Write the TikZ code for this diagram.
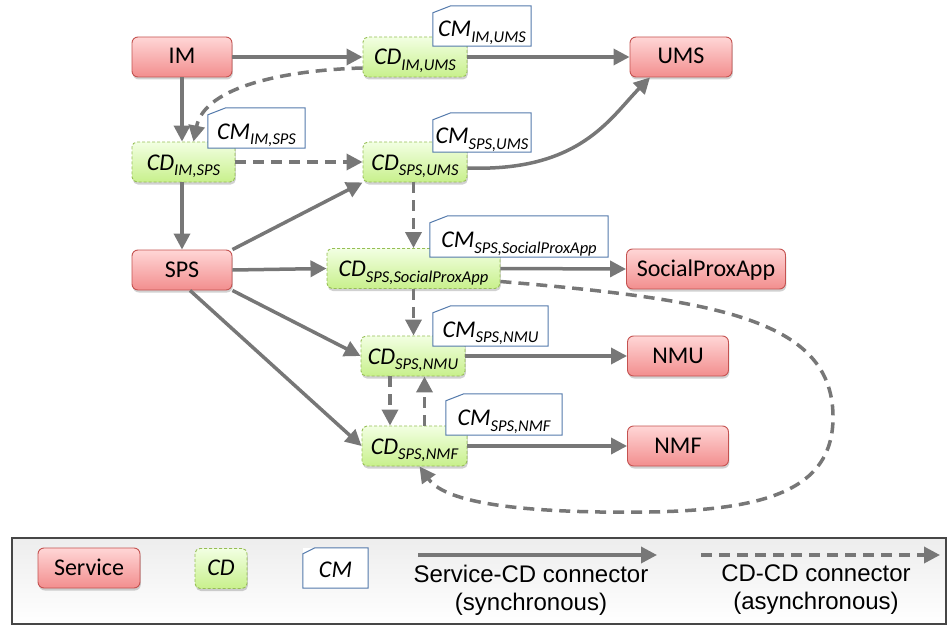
\documentclass[tikz,border=0pt]{standalone}
\usepackage{fontspec}
\setmainfont{Carlito}
\newfontfamily\legfont{Liberation Sans}
\usetikzlibrary{arrows.meta,shadows}
\definecolor{servtop}{RGB}{255,214,214}
\definecolor{servbot}{RGB}{242,142,142}
\definecolor{servborder}{RGB}{196,82,80}
\definecolor{cdtop}{RGB}{242,255,226}
\definecolor{cdbot}{RGB}{200,240,140}
\definecolor{cdborder}{RGB}{150,190,85}
\definecolor{cmborder}{RGB}{84,122,172}
\definecolor{arrowgray}{RGB}{119,119,119}
\definecolor{legborder}{RGB}{70,70,70}
\newcommand\lsub[1]{\raisebox{-5.5pt}{\fontsize{16.5}{17}\selectfont #1}}
\newcommand\cmoutline[3]{\draw[cmline] ([xshift=#2]#1.north west) -- (#1.north east) -- (#1.south east) -- (#1.south west) -- ([yshift=-#3]#1.north west) -- cycle;}
\begin{document}
\begin{tikzpicture}[x=1pt,y=-1pt,
  boxshadow/.style={drop shadow={shadow xshift=0.8pt,shadow yshift=-2.5pt,fill=black!60,opacity=0.3}},
  servicebox/.style={draw=servborder, line width=0.9pt, rounded corners=6pt,
    top color=servtop, bottom color=servbot, minimum height=40pt, inner sep=0pt,
    text height=16pt, text depth=2pt, font=\fontsize{24}{26}\selectfont, boxshadow},
  cdbox/.style={draw=cdborder, dash pattern=on 3pt off 2pt, line width=0.9pt, rounded corners=5pt,
    top color=cdtop, bottom color=cdbot, minimum height=40pt, inner sep=0pt,
    text height=20pt, text depth=4pt, font=\fontsize{24}{26}\selectfont\itshape, boxshadow},
  cmbox/.style={fill=white, minimum height=40pt, inner sep=0pt,
    text height=24pt, text depth=2pt, font=\fontsize{24}{26}\selectfont\itshape},
  cmline/.style={draw=cmborder, line width=1pt},
  sync/.style={draw=arrowgray, line width=3.5pt, -{Triangle[length=16pt,width=16pt]}},
  async/.style={sync, dash pattern=on 11pt off 7pt},
  legtext/.style={align=center, inner sep=0pt, font=\legfont\fontsize{24}{28}\selectfont},
]
\useasboundingbox (0,0) rectangle (948,626);

% service nodes
\node[servicebox, minimum width=100pt] (IM) at (182,57) {IM};
\node[servicebox, minimum width=102pt] (UMS) at (681,57) {UMS};
\node[servicebox, minimum width=100pt] (SPS) at (182,270) {SPS};
\node[servicebox, minimum width=159pt] (Social) at (706,269) {SocialProxApp};
\node[servicebox, minimum width=101pt] (NMU) at (678,356) {NMU};
\node[servicebox, minimum width=101pt] (NMF) at (678,446) {NMF};

% CD nodes
\node[cdbox, minimum width=104pt] (cdIMUMS) at (415,57) {CD\lsub{IM,UMS}};
\node[cdbox, minimum width=103pt] (cdIMSPS) at (183.5,162) {CD\lsub{IM,SPS}};
\node[cdbox, minimum width=104pt] (cdSPSUMS) at (415,162) {CD\lsub{SPS,UMS}};
\node[cdbox, minimum width=173pt] (cdSocial) at (413.5,268.5) {CD\lsub{SPS,SocialProxApp}};
\node[cdbox, minimum width=104pt] (cdNMU) at (413,356) {CD\lsub{SPS,NMU}};
\node[cdbox, minimum width=105pt] (cdNMF) at (414.5,446) {CD\lsub{SPS,NMF}};

% CM nodes
\node[cmbox, minimum width=98pt] (cmIMUMS) at (482,26) {CM\lsub{IM,UMS}};
\cmoutline{cmIMUMS}{18pt}{7pt}
\node[cmbox, minimum width=97pt] (cmIMSPS) at (256.5,128) {CM\lsub{IM,SPS}};
\cmoutline{cmIMSPS}{18pt}{7pt}
\node[cmbox, minimum width=98pt, minimum height=39pt] (cmSPSUMS) at (482,132.5) {CM\lsub{SPS,UMS}};
\cmoutline{cmSPSUMS}{18pt}{7pt}
\node[cmbox, minimum width=178pt, minimum height=41pt] (cmSocial) at (519,236.5) {CM\lsub{SPS,SocialProxApp}};
\cmoutline{cmSocial}{18pt}{7pt}
\node[cmbox, minimum width=115pt] (cmNMU) at (490.5,326) {CM\lsub{SPS,NMU}};
\cmoutline{cmNMU}{18pt}{7pt}
\node[cmbox, minimum width=116pt, minimum height=41pt] (cmNMF) at (504,414.5) {CM\lsub{SPS,NMF}};
\cmoutline{cmNMF}{18pt}{7pt}

% synchronous connectors
\draw[sync] (IM.east) -- (cdIMUMS.west);
\draw[sync] (cdIMUMS.east) -- (UMS.west);
\draw[sync] (IM.south) -- (IM.south |- cdIMSPS.north);
\draw[sync] (cdIMSPS.south -| SPS.south) -- (SPS.north);
\draw[sync] (SPS.north east) -- (cdSPSUMS.south west);
\draw[sync] ([yshift=-6pt]cdSPSUMS.east) .. controls (580,172) and (610,118) .. ([xshift=-31pt]UMS.south);
\draw[sync] (SPS.east) -- (cdSocial.west);
\draw[sync] (cdSocial.east) -- (Social.west);
\draw[sync] (SPS.south east) -- (cdNMU.west);
\draw[sync] ([xshift=8pt]SPS.south) -- (cdNMF.west);
\draw[sync] (cdNMU.east) -- (NMU.west);
\draw[sync] (cdNMF.east) -- (NMF.west);

% asynchronous connectors
\draw[async] ([yshift=-11pt]cdIMUMS.west) .. controls (290,70) and (205,85) .. ([xshift=10pt]cdIMSPS.north);
\draw[async] (cdIMSPS.east) -- (cdSPSUMS.west);
\draw[async] (cdSocial.north |- cdSPSUMS.south) -- (cdSocial.north);
\draw[async] (cdSocial.south) -- (cdSocial.south |- cdNMU.north);
\draw[async] ([xshift=-23pt]cdNMU.south) -- ([xshift=-23pt]cdNMU.south |- cdNMF.north);
\draw[async] ([xshift=10pt]cdNMF.north) -- ([xshift=10pt]cdNMF.north |- cdNMU.south);
\draw[async] ([yshift=-13pt]cdSocial.east) .. controls (720,300) and (835,320) .. (833,420)
  .. controls (831,502) and (740,514) .. (600,512)
  .. controls (480,510) and (440,495) .. ([xshift=5pt]cdNMF.south);

% legend
\draw[draw=legborder, line width=1.2pt, top color=black!7, bottom color=white] (12,538) rectangle (946,624);
\node[servicebox, minimum width=102pt] (lgService) at (89,568) {Service};
\node[cdbox, minimum width=52pt, text height=17pt, text depth=4pt, font=\fontsize{24}{26}\selectfont\itshape] (lgCD) at (221,568.5) {CD};
\node[cmbox, minimum width=65pt, text height=20pt, text depth=2pt, font=\fontsize{24}{26}\selectfont\itshape] (lgCM) at (335.5,568) {CM};
\cmoutline{lgCM}{12pt}{6pt}
\coordinate (syncA) at (418,555);
\coordinate (syncB) at (657,555);
\draw[sync] (syncA) -- (syncB);
\coordinate (asyncA) at (701,555);
\coordinate (asyncB) at (940,555);
\draw[async] (asyncA) -- (asyncB);
\node[legtext] (lgSyncText) at (531,590) {Service-CD connector\\(synchronous)};
\node[legtext] (lgAsyncText) at (816,590) {CD-CD connector\\(asynchronous)};
\end{tikzpicture}
\end{document}
